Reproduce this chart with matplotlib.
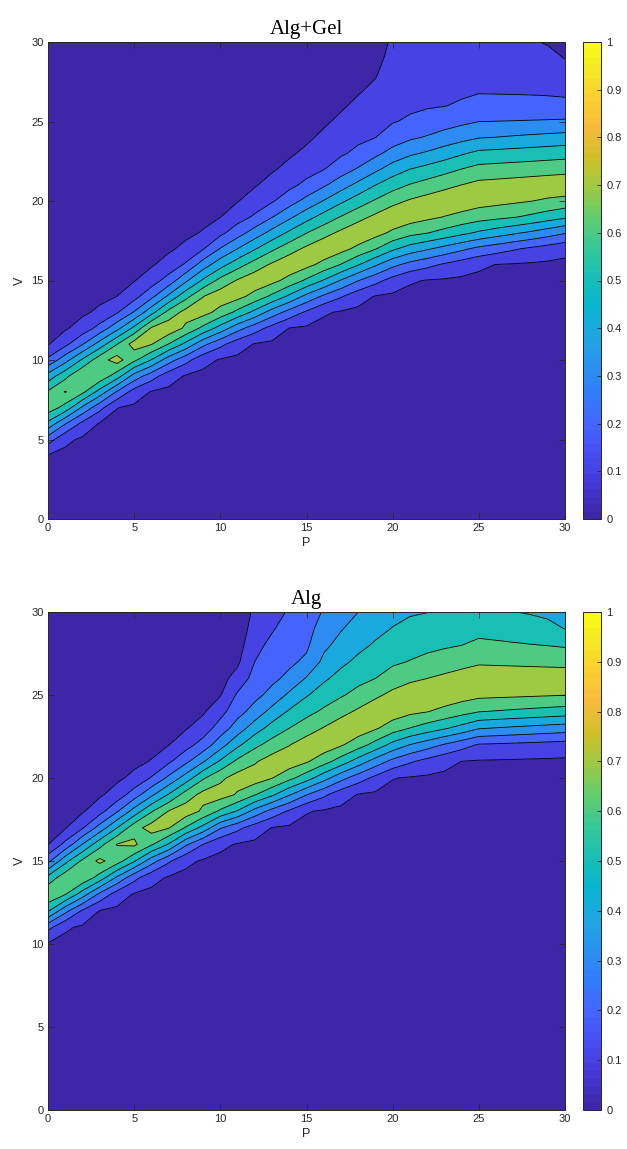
import numpy as np
import matplotlib
matplotlib.use("Agg")
import matplotlib.pyplot as plt
from matplotlib.colors import LinearSegmentedColormap, Normalize
import matplotlib.colorbar as mcolorbar


# grid and contour levels
p_grid = np.arange(0, 31)
v_grid = np.arange(0, 31)
levels = np.round(np.arange(0, 1.01, 0.1), 2)
crossing_levels = [0.1, 0.2, 0.3, 0.4, 0.5, 0.6, 0.7]

# knots along P where the crossings were read
p_knots = [0, 5, 9.5, 15, 20.5, 25, 30]

# ---- Alg+Gel ----
gel_center = [7.3, 10.75, 13.62, 16.45, 19.17, 20.43, 20.95]
gel_peak = [0.69, 0.77, 0.77, 0.78, 0.78, 0.78, 0.78]
# lower side, levels 0.1 .. 0.7
gel_low = [
    [4.17, 7.69, 10.11, 12.52, 14.82, 15.87, 16.81],
    [4.76, 8.22, 10.63, 13.09, 15.45, 16.60, 17.44],
    [5.28, 8.74, 11.15, 13.67, 16.08, 17.13, 17.97],
    [5.70, 9.16, 11.57, 14.14, 16.60, 17.61, 18.38],
    [6.12, 9.48, 11.89, 14.57, 17.13, 18.07, 18.91],
    [6.43, 9.89, 12.41, 15.09, 17.65, 18.60, 19.43],
    [7.30, 10.40, 12.94, 15.72, 18.38, 19.54, 20.27],
]
# upper side, levels 0.2 .. 0.7
gel_high = [
    [10.11, 13.56, 17.34, 21.24, 24.99, 26.52, 26.35],
    [9.58, 13.04, 16.71, 20.24, 23.63, 24.99, 25.10],
    [9.16, 12.52, 16.08, 19.45, 22.69, 23.94, 24.30],
    [8.74, 12.10, 15.45, 18.72, 21.85, 23.21, 23.50],
    [8.11, 11.70, 14.92, 17.98, 20.90, 22.33, 22.69],
    [7.30, 11.50, 14.30, 17.19, 19.96, 21.32, 21.64],
]
# upper 0.1 crossing (own knots, leaves the frame at the top)
gel_top_p = [0, 5, 9.5, 15, 19.0, 19.5, 28.5, 30]
gel_top_v = [10.74, 14.82, 18.49, 23.4, 27.7, 31.5, 30.2, 28.9]

# ---- Alg ----
alg_center = [13.0, 16.3, 18.98, 21.69, 24.6, 25.74, 25.79]
alg_peak = [0.69, 0.75, 0.77, 0.78, 0.78, 0.78, 0.78]
alg_low = [
    [10.34, 13.30, 15.66, 17.97, 20.18, 21.27, 21.61],
    [10.88, 13.85, 16.27, 18.47, 20.78, 22.07, 22.27],
    [11.28, 14.30, 16.77, 18.98, 21.39, 22.57, 22.77],
    [11.65, 14.65, 17.07, 19.38, 21.89, 22.97, 23.23],
    [11.95, 14.95, 17.37, 19.78, 22.39, 23.37, 23.67],
    [12.35, 15.40, 17.87, 20.28, 22.89, 23.98, 24.28],
    [13.00, 15.80, 18.37, 20.88, 23.60, 24.68, 24.98],
]
alg_high = [
    [15.36, 19.3, 22.69, 32.2, 48.0, 50.0, 48.0],
    [14.86, 18.7, 21.89, 27.2, 44.0, 46.0, 44.0],
    [14.56, 18.2, 21.28, 26.1, 33.2, 35.0, 33.5],
    [14.16, 17.7, 20.68, 24.9, 29.5, 30.8, 28.9],
    [13.66, 17.3, 20.28, 23.6, 26.9, 28.3, 27.89],
    [13.00, 16.8, 19.58, 22.49, 25.6, 26.79, 26.59],
]
alg_top_p = [0, 5, 9.5, 11.0, 11.6, 15, 20.5, 30]
alg_top_v = [15.86, 20.2, 24.0, 26.4, 30.5, 34.0, 52.0, 55.0]

# parula (subset of the 64-entry table)
parula_rows = [
    (0.2422, 0.1504, 0.6603), (0.2706, 0.2147, 0.8364), (0.2813, 0.3006, 0.9414),
    (0.2699, 0.3892, 0.9906), (0.1963, 0.4847, 0.9892), (0.1687, 0.5703, 0.9359),
    (0.1248, 0.6459, 0.8883), (0.0297, 0.7082, 0.8163), (0.0964, 0.7500, 0.7120),
    (0.2161, 0.7843, 0.5923), (0.3909, 0.8029, 0.4354), (0.6174, 0.7876, 0.2612),
    (0.8203, 0.7498, 0.1535), (0.9728, 0.7298, 0.2394), (0.9892, 0.8136, 0.1885),
    (0.9597, 0.9135, 0.1423), (0.9769, 0.9839, 0.0805),
]
parula_pos = [0, 4, 8, 12, 16, 20, 24, 28, 32, 36, 40, 44, 48, 52, 56, 60, 63]
parula = LinearSegmentedColormap.from_list(
    "parula", [(i / 63, c) for i, c in zip(parula_pos, parula_rows)], N=64)


def build_surface(center, peak, low, high, top_p, top_v):
    Z = np.zeros((len(v_grid), len(p_grid)))
    for j, p in enumerate(p_grid):
        c = np.interp(p, p_knots, center)
        pk = np.interp(p, p_knots, peak)
        lo = [np.interp(p, p_knots, row) for row in low]
        hi = [np.interp(p, top_p, top_v)] + [np.interp(p, p_knots, row) for row in high]
        xs, ys = [lo[0] - 3], [0.02]
        for L, x in zip(crossing_levels, lo):
            if L < pk:
                xs.append(x)
                ys.append(L)
        xs.append(c)
        ys.append(pk)
        for L, x in reversed(list(zip(crossing_levels, hi))):
            if L < pk:
                xs.append(x)
                ys.append(L)
        xs.append(hi[0] + 3)
        ys.append(0.02)
        xs = np.maximum.accumulate(np.array(xs) + np.arange(len(xs)) * 1e-6)
        Z[:, j] = np.interp(v_grid, xs, ys)
    return Z


plt.rcParams['font.family'] = ['Liberation Sans', 'DejaVu Sans']
grey = (0.15, 0.15, 0.15)

fig = plt.figure(figsize=(6.27, 11.49), dpi=100)
panels = [
    ("Alg+Gel", build_surface(gel_center, gel_peak, gel_low, gel_high, gel_top_p, gel_top_v),
     [48 / 627, 630 / 1149, 517 / 627, 477 / 1149]),
    ("Alg", build_surface(alg_center, alg_peak, alg_low, alg_high, alg_top_p, alg_top_v),
     [48 / 627, 39 / 1149, 517 / 627, 498 / 1149]),
]

band_colors = [parula(l) for l in levels[:-1]]

for title, Z, rect in panels:
    ax = fig.add_axes(rect)
    ax.contourf(p_grid, v_grid, Z, levels=levels, colors=band_colors)
    ax.contour(p_grid, v_grid, Z, levels=levels[1:-1], colors='k', linewidths=0.6)
    ax.set_xlim(0, 30)
    ax.set_ylim(0, 30)
    ax.set_xticks(range(0, 31, 5))
    ax.set_yticks(range(0, 31, 5))
    ax.tick_params(direction='in', length=4, width=0.6, top=True, right=True,
                   labelsize=8, colors=grey, pad=3)
    for s in ax.spines.values():
        s.set_color(grey)
        s.set_linewidth(0.7)
    ax.set_xlabel("P", fontsize=9, color=grey, labelpad=3)
    ax.set_ylabel("V", fontsize=9, color=grey, labelpad=4)
    ax.set_title(title, fontsize=15, family='Liberation Serif', color='k', pad=6)

    cax = fig.add_axes([583 / 627, rect[1], 18 / 627, rect[3]])
    cb = mcolorbar.ColorbarBase(cax, cmap=parula, norm=Normalize(0, 1))
    cb.set_ticks(levels)
    cb.set_ticklabels([f"{l:g}" for l in levels])
    cb.outline.set_edgecolor(grey)
    cb.outline.set_linewidth(0.7)
    cax.tick_params(direction='in', length=3, width=0.6, labelsize=8, colors=grey, pad=4)

fig.savefig("out.png", dpi=100)
